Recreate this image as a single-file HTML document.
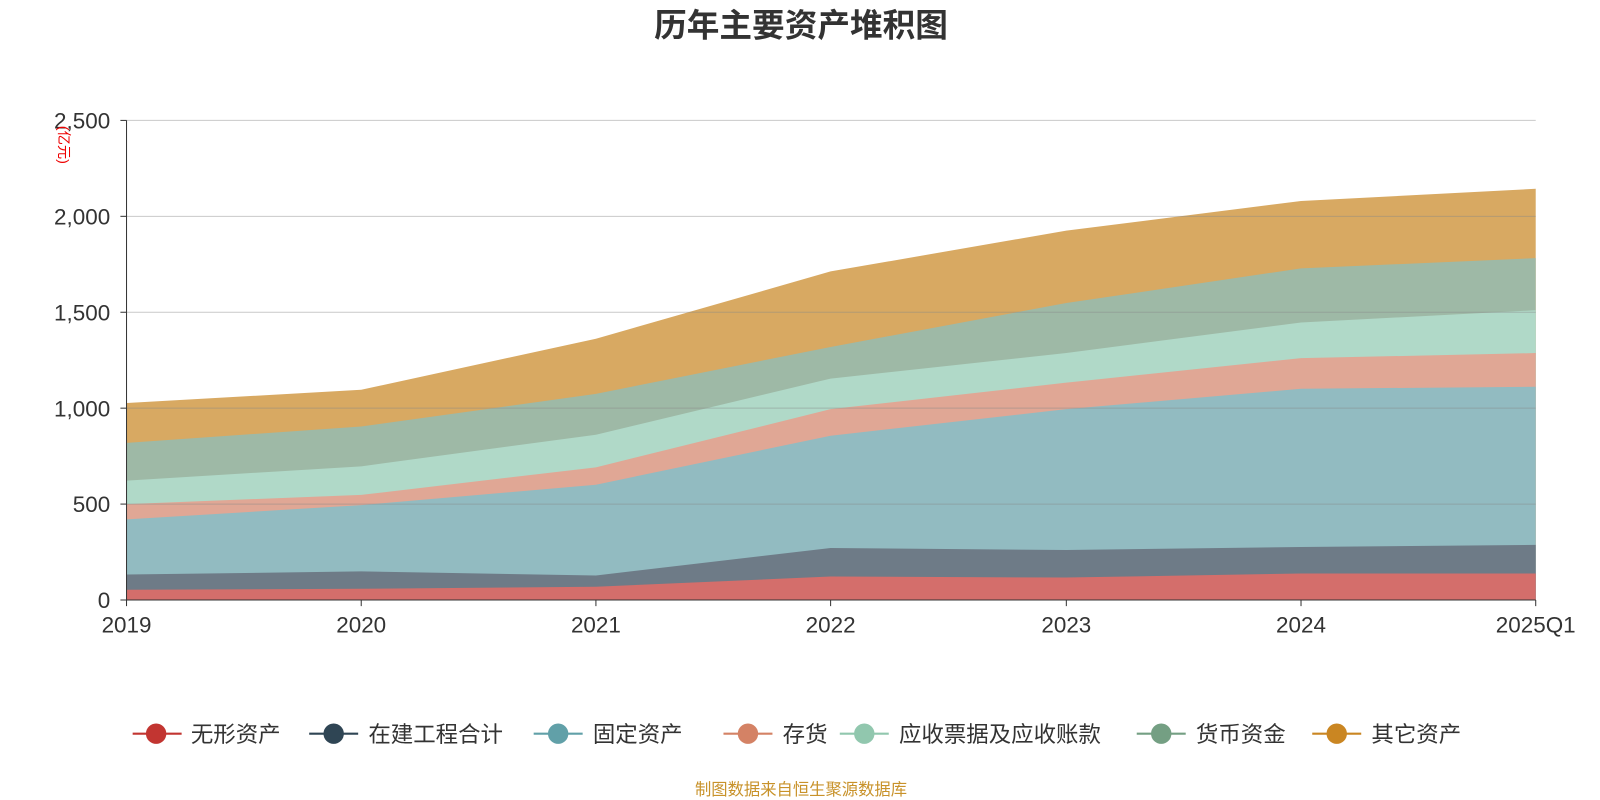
<!DOCTYPE html>
<html><head><meta charset="utf-8"><style>
html,body{margin:0;padding:0;background:#fff;}
svg{display:block;font-family:"Liberation Sans","Noto Sans CJK SC",sans-serif;}
</style></head><body>
<svg width="1600" height="800" viewBox="0 0 1568 784" preserveAspectRatio="none" xmlns="http://www.w3.org/2000/svg">
<rect width="1568" height="784" fill="#fff"/>
<text x="785" y="36" text-anchor="middle" font-size="32" font-weight="bold" fill="#333">历年主要资产堆积图</text>
<polygon fill="#d8a962" points="124,395 354,382 584,332 814,266 1045,226 1275,197 1505,185 1505,588 124,588"/>
<polygon fill="#9eb9a6" points="124,434 354,418 584,386 814,340 1045,297 1275,263 1505,253 1505,588 124,588"/>
<polygon fill="#b0d9c8" points="124,471 354,457 584,426 814,371 1045,346 1275,316 1505,304 1505,588 124,588"/>
<polygon fill="#e0a795" points="124,494 354,485 584,458 814,401 1045,375 1275,351 1505,346 1505,588 124,588"/>
<polygon fill="#92bbc1" points="124,509 354,495 584,475 814,427 1045,401 1275,381 1505,379 1505,588 124,588"/>
<polygon fill="#6e7b87" points="124,563 354,560 584,564 814,537 1045,539 1275,536 1505,534 1505,588 124,588"/>
<polygon fill="#d46e6b" points="124,578 354,577 584,575 814,565 1045,566 1275,562 1505,562 1505,588 124,588"/>
<g stroke="#888" stroke-opacity="0.45" stroke-width="1">
<line x1="124" y1="118" x2="1505" y2="118"/>
<line x1="124" y1="212" x2="1505" y2="212"/>
<line x1="124" y1="306" x2="1505" y2="306"/>
<line x1="124" y1="400" x2="1505" y2="400"/>
<line x1="124" y1="494" x2="1505" y2="494"/>
</g>
<line x1="124" y1="118" x2="124" y2="588" stroke="#333"/>
<line x1="124" y1="588" x2="1505" y2="588" stroke="#333"/>
<g stroke="#333">
<line x1="118" y1="118" x2="124" y2="118"/><line x1="118" y1="212" x2="124" y2="212"/><line x1="118" y1="306" x2="124" y2="306"/><line x1="118" y1="400" x2="124" y2="400"/><line x1="118" y1="494" x2="124" y2="494"/><line x1="118" y1="588" x2="124" y2="588"/>
<line x1="124" y1="588" x2="124" y2="594"/><line x1="354" y1="588" x2="354" y2="594"/><line x1="584" y1="588" x2="584" y2="594"/><line x1="814" y1="588" x2="814" y2="594"/><line x1="1045" y1="588" x2="1045" y2="594"/><line x1="1275" y1="588" x2="1275" y2="594"/><line x1="1505" y1="588" x2="1505" y2="594"/>
</g>
<g font-size="22" fill="#333" text-anchor="end">
<text x="108" y="126">2,500</text><text x="108" y="220">2,000</text><text x="108" y="314">1,500</text><text x="108" y="408">1,000</text><text x="108" y="502">500</text><text x="108" y="596">0</text>
</g>
<g font-size="22" fill="#333" text-anchor="middle">
<text x="124" y="620">2019</text><text x="354" y="620">2020</text><text x="584" y="620">2021</text><text x="814" y="620">2022</text><text x="1045" y="620">2023</text><text x="1275" y="620">2024</text><text x="1505" y="620">2025Q1</text>
</g>
<text transform="translate(58,142) rotate(90)" font-size="14" fill="#e00" text-anchor="middle">(亿元)</text>
<g font-size="22" fill="#333">
<line x1="130" y1="719" x2="178" y2="719" stroke="#c23531" stroke-width="2"/><circle cx="153" cy="719" r="10" fill="#c23531"/><text x="187" y="727">无形资产</text>
<line x1="303" y1="719" x2="351" y2="719" stroke="#2f4554" stroke-width="2"/><circle cx="327" cy="719" r="10" fill="#2f4554"/><text x="361" y="727">在建工程合计</text>
<line x1="523" y1="719" x2="571" y2="719" stroke="#61a0a8" stroke-width="2"/><circle cx="547" cy="719" r="10" fill="#61a0a8"/><text x="581" y="727">固定资产</text>
<line x1="709" y1="719" x2="757" y2="719" stroke="#d48265" stroke-width="2"/><circle cx="733" cy="719" r="10" fill="#d48265"/><text x="767" y="727">存货</text>
<line x1="823" y1="719" x2="871" y2="719" stroke="#91c7ae" stroke-width="2"/><circle cx="847" cy="719" r="10" fill="#91c7ae"/><text x="881" y="727">应收票据及应收账款</text>
<line x1="1114" y1="719" x2="1162" y2="719" stroke="#749f83" stroke-width="2"/><circle cx="1138" cy="719" r="10" fill="#749f83"/><text x="1172" y="727">货币资金</text>
<line x1="1286" y1="719" x2="1334" y2="719" stroke="#ca8622" stroke-width="2"/><circle cx="1310" cy="719" r="10" fill="#ca8622"/><text x="1344" y="727">其它资产</text>
</g>
<text x="785" y="779" text-anchor="middle" font-size="16" fill="#c8922a">制图数据来自恒生聚源数据库</text>
</svg>
</body></html>
